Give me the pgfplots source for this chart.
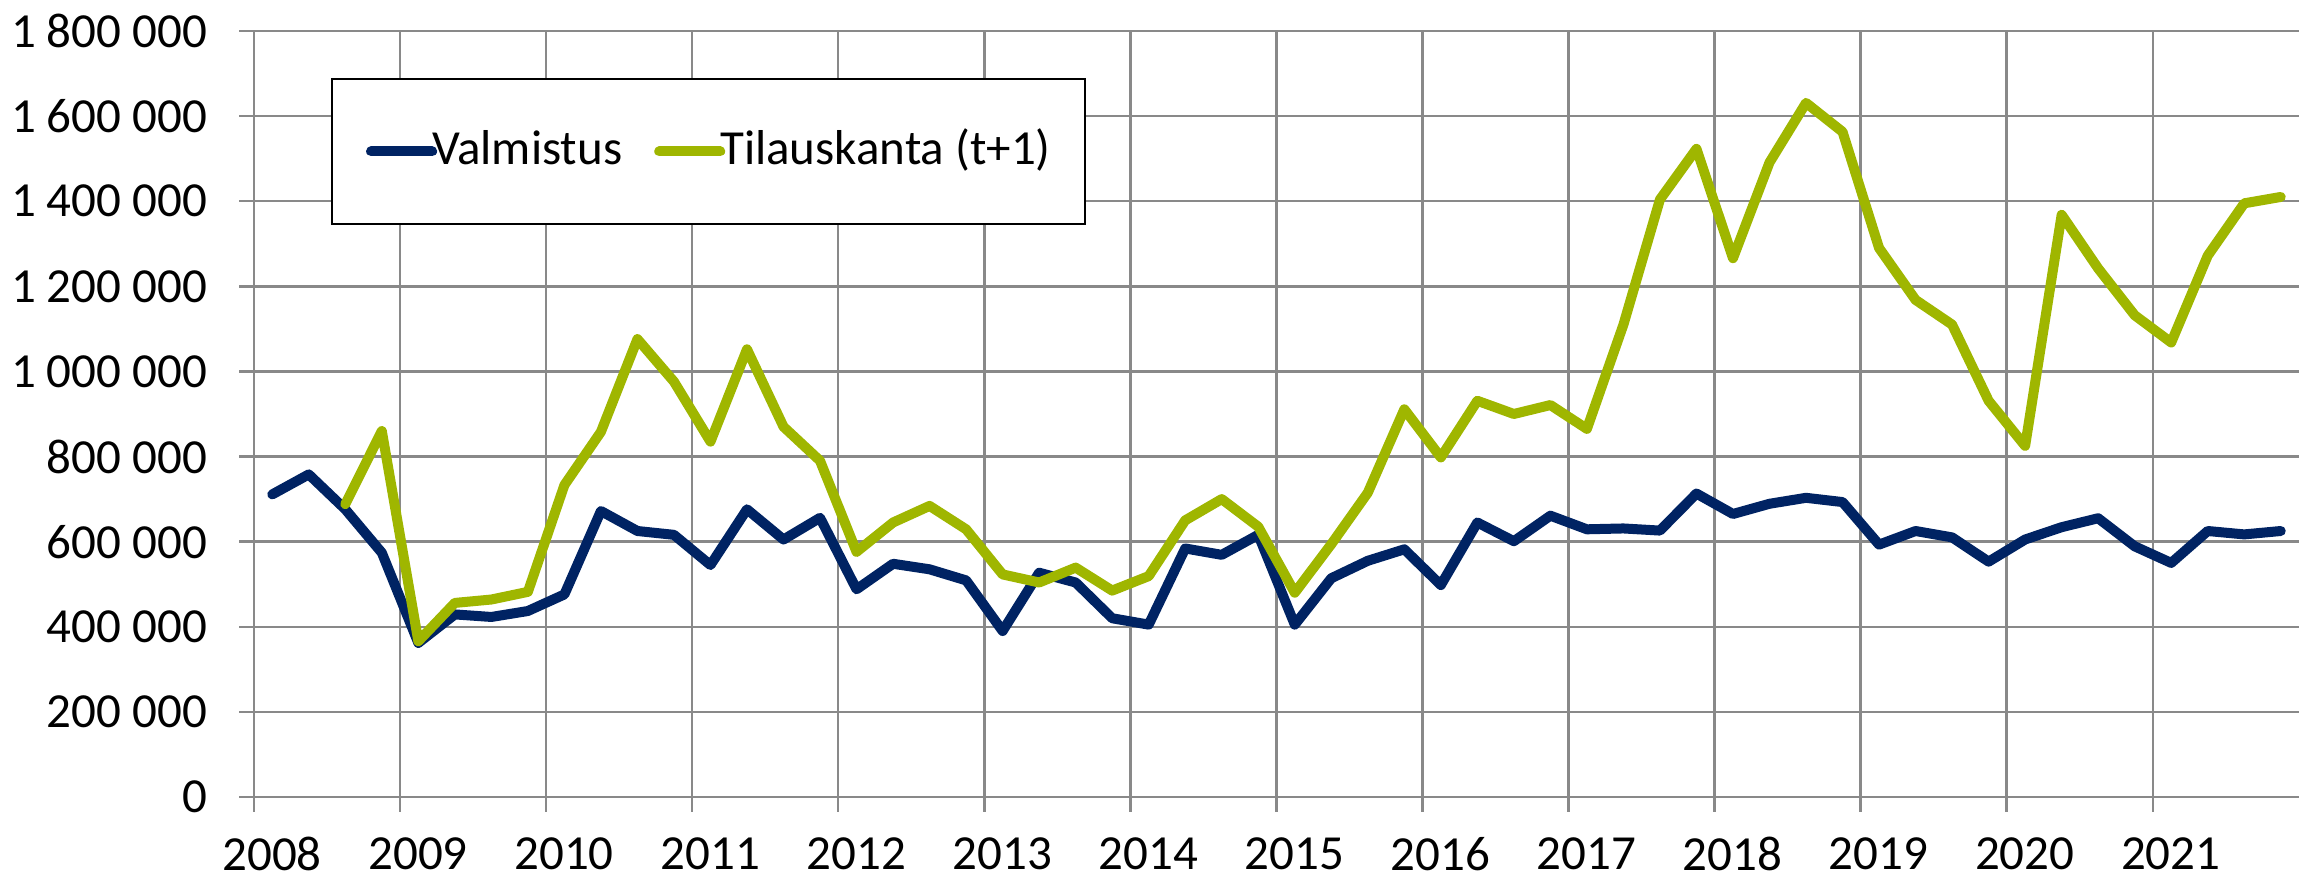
\documentclass[border=0pt]{standalone}
\usepackage{fontspec}
\setmainfont{Carlito}
\usepackage{pgfplots}
\pgfplotsset{compat=1.18}
\definecolor{navy}{RGB}{0,35,99}
\definecolor{olive}{RGB}{159,182,0}
\definecolor{gridgray}{RGB}{137,137,137}

\begin{document}
\fontsize{9.8}{11.5}\selectfont
\begin{tikzpicture}
\path[use as bounding box] (-50.8pt,-16.2pt) rectangle (409pt,159.4pt);
\begin{axis}[
  at={(0,0)}, anchor=south west, scale only axis,
  width=409pt, height=153.2pt,
  xmin=2008, xmax=2022, ymin=0, ymax=1800000,
  axis x line*=bottom, axis y line*=left,
  axis line style={draw=gridgray, line width=0.5pt, -},
  xtick={2008,2009,...,2021},
  xticklabels={2008,2009,2010,2011,2012,2013,2014,2015,2016,2017,2018,2019,2020,2021},
  ytick={0,200000,400000,600000,800000,1000000,1200000,1400000,1600000,1800000},
  yticklabels={0,200 000,400 000,600 000,800 000,1 000 000,1 200 000,1 400 000,1 600 000,1 800 000},
  scaled y ticks=false,
  tick align=outside, major tick length=3pt,
  tick style={draw=gridgray, line width=0.5pt},
  xtick pos=bottom, ytick pos=left,
  grid=major, major grid style={draw=gridgray, line width=0.5pt},
  xticklabel style={inner sep=0pt, anchor=north, yshift=-4.9pt, xshift=3.6pt, text depth=0pt, font=\fontsize{9.8}{11.5}\selectfont},
  yticklabel style={inner sep=0pt, anchor=east, xshift=-6.2pt, font=\fontsize{9.8}{11.5}\selectfont},
  legend columns=2,
  legend style={at={(0.0377,0.9383)}, anchor=north west, draw=black, line width=0.4pt,
    inner xsep=6.8pt, inner ysep=10pt,
    nodes={inner sep=0pt, text height=7pt, text depth=1.9pt, font=\fontsize{9.8}{11.5}\selectfont},
    /tikz/every odd column/.append style={column sep=-1.0pt},
    /tikz/every even column/.append style={column sep=6.4pt}},
  legend image code/.code={\path (0pt,0pt) rectangle (12.2pt,0pt); \draw[#1, line cap=round] (1pt,0pt) -- (11.2pt,0pt);},
]
\addplot[navy, line width=2pt, line join=round, line cap=round] coordinates {
(2008.125,711000) (2008.375,758000) (2008.625,676000) (2008.875,574000)
(2009.125,362000) (2009.375,429000) (2009.625,423000) (2009.875,437000)
(2010.125,476000) (2010.375,672000) (2010.625,625000) (2010.875,616000)
(2011.125,545000) (2011.375,676000) (2011.625,605000) (2011.875,656000)
(2012.125,488000) (2012.375,548000) (2012.625,535000) (2012.875,509000)
(2013.125,390000) (2013.375,527000) (2013.625,504000) (2013.875,420000)
(2014.125,405000) (2014.375,584000) (2014.625,569000) (2014.875,616000)
(2015.125,405000) (2015.375,514000) (2015.625,555000) (2015.875,582000)
(2016.125,498000) (2016.375,645000) (2016.625,601000) (2016.875,661000)
(2017.125,629000) (2017.375,631000) (2017.625,626000) (2017.875,713000)
(2018.125,665000) (2018.375,689000) (2018.625,703000) (2018.875,693000)
(2019.125,593000) (2019.375,625000) (2019.625,610000) (2019.875,553000)
(2020.125,605000) (2020.375,634000) (2020.625,655000) (2020.875,589000)
(2021.125,550000) (2021.375,625000) (2021.625,617000) (2021.875,625000)
};
\addlegendentry{Valmistus}
\addplot[olive, line width=2pt, line join=round, line cap=round] coordinates {
(2008.625,688000) (2008.875,860000)
(2009.125,366000) (2009.375,456000) (2009.625,464000) (2009.875,482000)
(2010.125,733000) (2010.375,858000) (2010.625,1076000) (2010.875,976000)
(2011.125,835000) (2011.375,1052000) (2011.625,870000) (2011.875,790000)
(2012.125,576000) (2012.375,645000) (2012.625,684000) (2012.875,629000)
(2013.125,523000) (2013.375,504000) (2013.625,539000) (2013.875,485000)
(2014.125,519000) (2014.375,650000) (2014.625,700000) (2014.875,635000)
(2015.125,480000) (2015.375,594000) (2015.625,715000) (2015.875,911000)
(2016.125,798000) (2016.375,931000) (2016.625,900000) (2016.875,921000)
(2017.125,865000) (2017.375,1110000) (2017.625,1404000) (2017.875,1523000)
(2018.125,1266000) (2018.375,1491000) (2018.625,1631000) (2018.875,1563000)
(2019.125,1290000) (2019.375,1168000) (2019.625,1110000) (2019.875,931000)
(2020.125,825000) (2020.375,1368000) (2020.625,1242000) (2020.875,1132000)
(2021.125,1068000) (2021.375,1272000) (2021.625,1395000) (2021.875,1410000)
};
\addlegendentry{Tilauskanta (t+1)}
\end{axis}
\end{tikzpicture}
\end{document}
